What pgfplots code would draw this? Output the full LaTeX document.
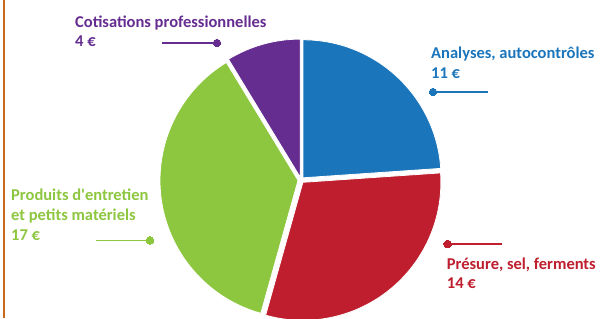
\documentclass[border=0pt]{standalone}
\usepackage{pgfplots}
\pgfplotsset{compat=1.18}
\usepackage{pgfplotstable}
\usepackage{fontspec}
\setmainfont{Carlito}[Ligatures=TeXOff]

\definecolor{cblue}{HTML}{1B75BB}
\definecolor{cred}{HTML}{BE1E2D}
\definecolor{cgreen}{HTML}{8DC63F}
\definecolor{cpurple}{HTML}{662D91}
\definecolor{corange}{HTML}{C8691C}

% values in the order of the slices, clockwise from 12 o'clock
\pgfplotstableread{
label value
Analyses 11
Presure 14
Produits 17
Cotisations 4
}\piedata

\newcommand\slice[3]{%
  \fill[#3, draw=white, line width=0.8pt, shift={({(#1+#2)/2}:3pt)}]
    (axis cs:301,138) -- ++(#1:138pt) arc[start angle=#1, end angle=#2, radius=138pt] -- cycle;}

\newcommand\lbl[4]{\node[anchor=base west, inner sep=0pt, text=#1,
  font=\bfseries\fontsize{16.5}{20}\selectfont] at (axis cs:#2,#3) {#4};}

\begin{document}
\begin{tikzpicture}
\useasboundingbox (0,0) rectangle (601pt,318pt);
\pgfplotstablegetelem{0}{value}\of\piedata \edef\va{\pgfplotsretval}
\pgfplotstablegetelem{1}{value}\of\piedata \edef\vb{\pgfplotsretval}
\pgfplotstablegetelem{2}{value}\of\piedata \edef\vc{\pgfplotsretval}
\pgfplotstablegetelem{3}{value}\of\piedata \edef\vd{\pgfplotsretval}
\pgfmathsetmacro\tot{\va+\vb+\vc+\vd}
\pgfmathsetmacro\aA{90}
\pgfmathsetmacro\aB{\aA-360*\va/\tot}
\pgfmathsetmacro\aC{\aB-360*\vb/\tot}
\pgfmathsetmacro\aD{\aC-360*\vc/\tot}
\pgfmathsetmacro\aE{\aD-360*\vd/\tot}
\begin{axis}[width=601pt, height=318pt, scale only axis,
  xmin=0, xmax=601, ymin=0, ymax=318, hide axis, clip=false]
  % orange rule at the left
  \addplot[corange, line width=2pt, mark=none] coordinates {(4,0) (4,318)};
  % pie slices
  \slice{\aA}{\aB}{cblue}
  \slice{\aB}{\aC}{cred}
  \slice{\aC}{\aD}{cgreen}
  \slice{\aD}{\aE}{cpurple}
  % leader lines
  \addplot[cpurple, line width=1.3pt, mark=*, mark size=3.8pt, mark indices={2}, mark options={line width=0pt}] coordinates {(162,275) (217,275)};
  \addplot[cblue, line width=1.3pt, mark=*, mark size=3.8pt, mark indices={1}, mark options={line width=0pt}] coordinates {(433,226) (488,226)};
  \addplot[cgreen, line width=1.3pt, mark=*, mark size=3.8pt, mark indices={2}, mark options={line width=0pt}] coordinates {(96,77.7) (150,77.7)};
  \addplot[cred, line width=1.3pt, mark=*, mark size=3.8pt, mark indices={1}, mark options={line width=0pt}] coordinates {(447.7,74) (502,74)};
  % labels
  \lbl{cpurple}{75}{290.5}{Cotisations professionnelles}
  \lbl{cpurple}{75}{271.3}{4 €}
  \lbl{cblue}{431}{259}{Analyses, autocontrôles}
  \lbl{cblue}{431}{239}{11 €}
  \lbl{cgreen}{11}{117.3}{Produits d'entretien}
  \lbl{cgreen}{11}{97.3}{et petits matériels}
  \lbl{cgreen}{11}{77.3}{17 €}
  \lbl{cred}{446.7}{48}{Présure, sel, ferments}
  \lbl{cred}{446.7}{29}{14 €}
\end{axis}
\end{tikzpicture}
\end{document}
